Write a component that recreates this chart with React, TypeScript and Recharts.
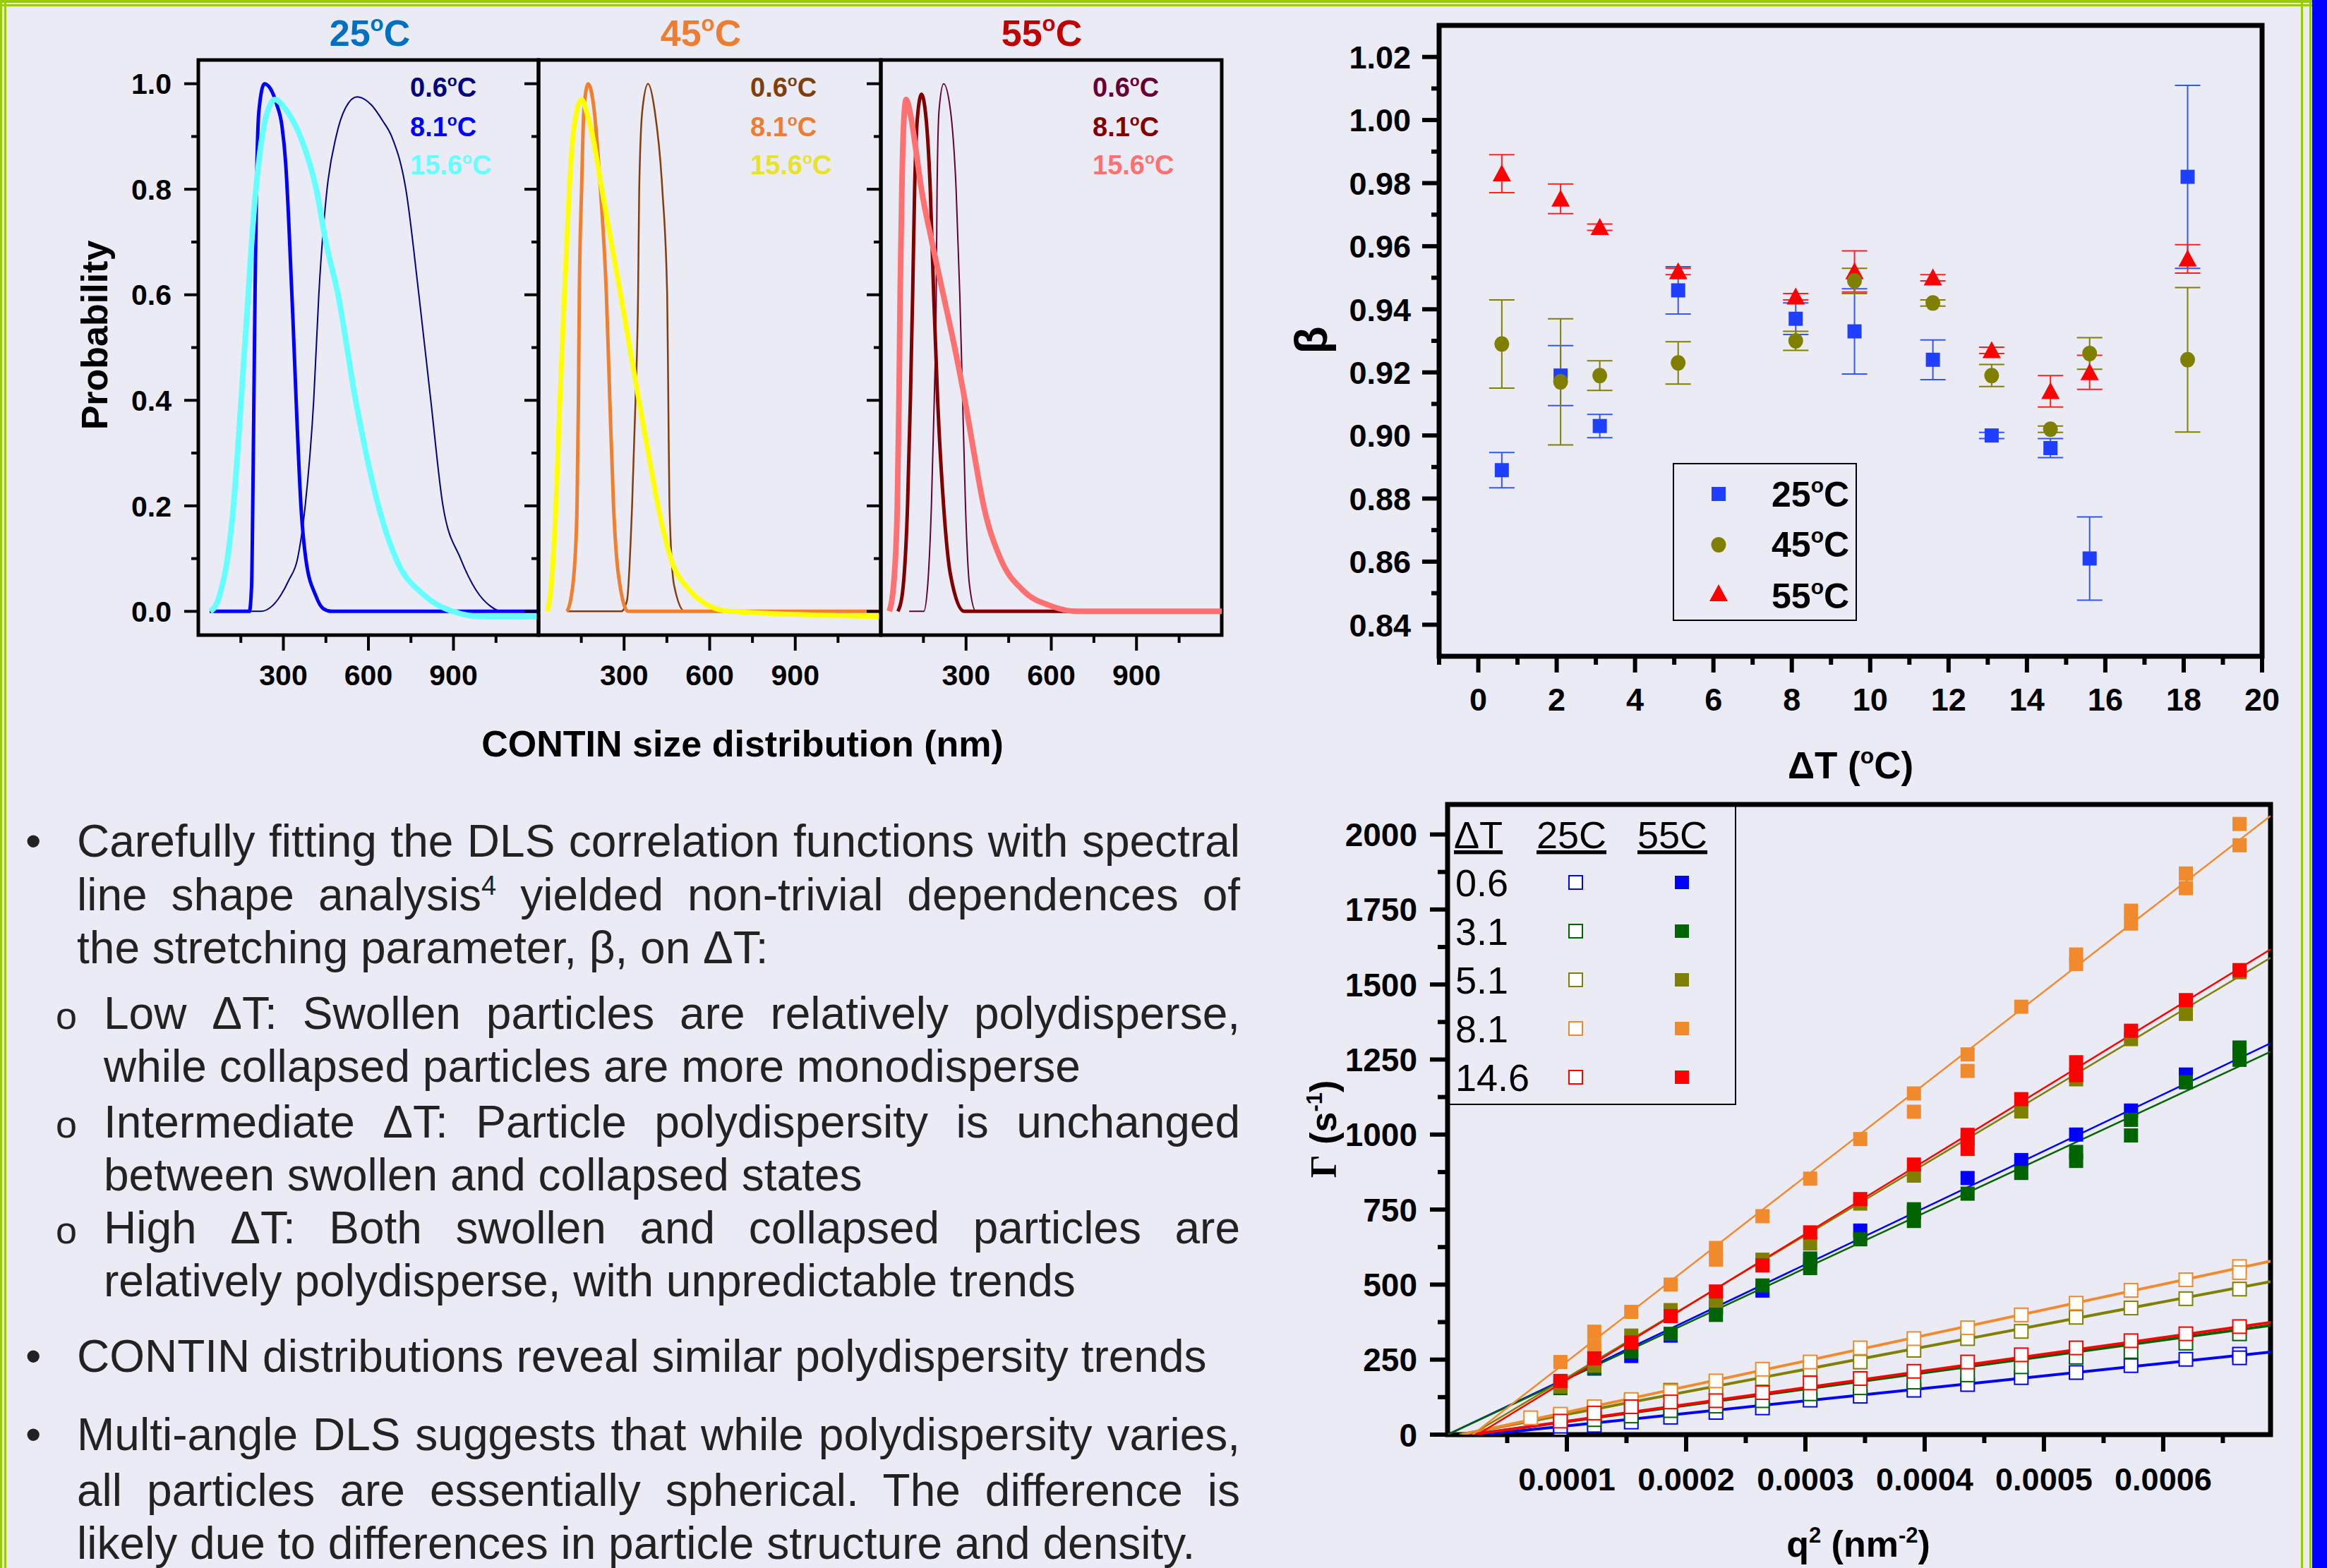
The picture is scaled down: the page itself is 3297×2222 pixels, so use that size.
import React from 'react'
import {
  LineChart, Line, XAxis, YAxis, ReferenceArea, ScatterChart, Scatter, ErrorBar, ComposedChart,
} from 'recharts'

const FONT = '"Liberation Sans", Arial, sans-serif'
const BG = '#EBEBF5'

// ---------- CONTIN size distributions: [size nm, probability] ----------
const C25_06 = [[60,0],[220,0],[260,0.01],[290,0.03],[320,0.06],[350,0.1],[377,0.2],[407,0.4],[425,0.6],[454,0.8],[486,0.9],[520,0.955],[560,0.975],[610,0.96],[650,0.93],[682,0.9],[732,0.8],[778,0.6],[820,0.4],[863,0.2],[925,0.1],[980,0.04],[1030,0.01],[1069,0],[1200,0]]
const C25_81 = [[40,0],[180,0],[188,0.05],[192,0.2],[196,0.4],[200,0.6],[205,0.8],[214,0.95],[233,1.0],[255,0.99],[277,0.96],[295,0.92],[308,0.85],[318,0.75],[326,0.65],[334,0.55],[345,0.4],[362,0.2],[379,0.1],[414,0.03],[441,0.005],[470,0],[1200,0]]
const C25_156 = [[42,0],[60,0.01],[80,0.04],[100,0.09],[124,0.2],[151,0.4],[176,0.6],[195,0.75],[215,0.86],[240,0.94],[270,0.97],[310,0.95],[360,0.9],[416,0.8],[450,0.7],[493,0.6],[555,0.4],[635,0.2],[697,0.1],[798,0.03],[897,0],[1000,-0.01],[1200,-0.01]]

const C45_06 = [[100,0],[290,0],[310,0.02],[328,0.2],[340,0.4],[349,0.6],[353,0.8],[364,0.95],[384,1.0],[407,0.95],[434,0.8],[451,0.6],[455,0.4],[459,0.2],[475,0.05],[513,0],[1200,0]]
const C45_81 = [[100,0],[112,0.02],[128,0.1],[135,0.2],[140,0.4],[143,0.6],[151,0.8],[159,0.95],[174,1.0],[195,0.95],[217,0.8],[238,0.6],[250,0.4],[263,0.2],[280,0.07],[314,0],[1200,0]]
const C45_156 = [[32,0],[45,0.05],[61,0.2],[75,0.4],[91,0.6],[108,0.8],[125,0.92],[151,0.97],[172,0.94],[190,0.9],[222,0.8],[255,0.7],[288,0.6],[320,0.5],[352,0.4],[385,0.3],[419,0.2],[464,0.1],[530,0.04],[600,0.01],[670,0],[1200,-0.01]]

const C55_06 = [[100,0],[151,0],[165,0.05],[178,0.2],[188,0.4],[195,0.6],[198,0.8],[205,0.95],[221,1.0],[245,0.95],[265,0.8],[278,0.6],[288,0.4],[298,0.2],[312,0.05],[335,0],[1200,0]]
const C55_81 = [[60,0],[75,0.03],[94,0.2],[104,0.4],[112,0.6],[119,0.8],[128,0.93],[143,0.98],[160,0.93],[174,0.8],[186,0.6],[200,0.4],[221,0.2],[245,0.07],[293,0],[1200,0]]
const C55_156 = [[30,0],[45,0.05],[58,0.2],[64,0.4],[68,0.6],[74,0.8],[80,0.92],[89,0.97],[105,0.94],[122,0.88],[143,0.8],[180,0.7],[220,0.6],[260,0.5],[296,0.4],[328,0.3],[362,0.2],[421,0.1],[500,0.04],[600,0.01],[692,0],[1200,0]]

const CONTIN_TEMPS = ['0.6', '8.1', '15.6']
const CONTIN_X_MAJOR = [300, 600, 900]
const CONTIN_X_MINOR = [150, 450, 750, 1050]
const CONTIN_Y_MAJOR = [0, 0.2, 0.4, 0.6, 0.8, 1.0]
const CONTIN_Y_MINOR = [0.1, 0.3, 0.5, 0.7, 0.9]

const PANELS = [
  { title: '25', color: '#0070C0', left: 281, w: 482, titleX: 524, curves: [C25_06, C25_81, C25_156], colors: ['#000080', '#0000FF', '#66FFFF'], text: ['#000080', '#0000FF', '#66FFFF'], widths: [2, 5, 8] },
  { title: '45', color: '#ED7D31', left: 763, w: 485, titleX: 993, curves: [C45_06, C45_81, C45_156], colors: ['#843C0C', '#F08030', '#FFFF00'], text: ['#7F3F0A', '#ED7D31', '#E6E22E'], widths: [2.5, 5, 7] },
  { title: '55', color: '#C00000', left: 1248, w: 483, titleX: 1476, curves: [C55_06, C55_81, C55_156], colors: ['#660033', '#800000', '#FF7070'], text: ['#660033', '#800000', '#FF7070'], widths: [2, 5, 8] },
]

// ---------- beta vs Delta T ----------
const DT = [0.6, 2.1, 3.1, 5.1, 8.1, 9.6, 11.6, 13.1, 14.6, 15.6, 18.1]
const B25 = [0.889, 0.919, 0.903, 0.946, 0.937, 0.933, 0.924, 0.900, 0.896, 0.861, 0.982]
const E25 = [0.0056, 0.0095, 0.0037, 0.0075, 0.005, 0.0135, 0.0063, 0.001, 0.003, 0.0132, 0.029]
const B45 = [0.929, 0.917, 0.919, 0.923, 0.930, 0.949, 0.942, 0.919, 0.902, 0.926, 0.924]
const E45 = [0.014, 0.020, 0.0047, 0.0067, 0.003, 0.004, 0.001, 0.0035, 0.001, 0.005, 0.0229]
const B55 = [0.983, 0.975, 0.966, 0.952, 0.944, 0.952, 0.950, 0.927, 0.914, 0.920, 0.956]
const E55 = [0.006, 0.0047, 0.001, 0.001, 0.001, 0.0065, 0.001, 0.001, 0.005, 0.0054, 0.0045]

const B_X_MAJOR = [0, 2, 4, 6, 8, 10, 12, 14, 16, 18, 20]
const B_X_MINOR = [-1, 1, 3, 5, 7, 9, 11, 13, 15, 17, 19]
const B_Y_MAJOR = [0.84, 0.86, 0.88, 0.90, 0.92, 0.94, 0.96, 0.98, 1.00, 1.02]
const B_Y_MINOR = [0.85, 0.87, 0.89, 0.91, 0.93, 0.95, 0.97, 0.99, 1.01]

// ---------- Gamma vs q^2 : [q index, Gamma] ----------
const Q = [0.0000697, 0.0000946, 0.000123, 0.000154, 0.000187, 0.000225, 0.000264, 0.000304, 0.000346, 0.000391, 0.000436, 0.000481, 0.000527, 0.000573, 0.000619, 0.000664]

const G25_06 = [[1,19],[1,28],[2,31],[3,42],[4,58],[5,74],[6,89],[7,115],[8,128],[9,148],[10,167],[11,190],[12,207],[13,230],[14,251],[15,268],[15,256]]
const G25_31 = [[2,50],[3,62],[4,80],[5,95],[6,113],[7,136],[8,156],[9,175],[10,199],[11,226],[12,258],[13,277],[14,305],[15,336]]
const G25_51 = [[1,62],[2,90],[3,112],[4,148],[5,156],[6,187],[7,218],[8,242],[9,281],[10,320],[11,344],[12,391],[13,422],[14,453],[15,485]]
const G25_81 = [[0,56],[1,68],[2,93],[3,117],[4,144],[5,179],[6,218],[7,242],[8,289],[9,320],[10,356],[11,399],[12,438],[13,481],[14,516],[15,560],[15,540]]
const G25_146 = [[1,45],[2,72],[3,93],[4,109],[5,113],[6,140],[7,172],[8,187],[9,211],[10,242],[11,266],[12,289],[13,313],[14,336],[15,360]]

const G55_06 = [[1,175],[2,220],[3,262],[4,330],[5,425],[6,480],[7,580],[8,680],[9,740],[10,855],[11,915],[12,1000],[13,1080],[14,1200],[15,1270]]
const G55_31 = [[1,155],[2,222],[3,277],[4,336],[5,399],[6,497],[7,587],[7,555],[8,651],[9,751],[9,712],[10,803],[11,872],[12,942],[12,912],[13,1049],[13,997],[14,1174],[15,1290],[15,1249]]
const G55_51 = [[1,160],[2,230],[3,330],[4,415],[5,446],[6,583],[7,637],[8,770],[9,863],[10,984],[11,1077],[12,1184],[13,1318],[14,1402],[15,1541]]
const G55_81 = [[1,242],[2,343],[2,296],[3,409],[4,500],[5,622],[5,583],[6,728],[7,853],[8,985],[9,1137],[9,1076],[10,1267],[10,1212],[11,1426],[12,1600],[12,1568],[13,1746],[13,1703],[14,1870],[14,1821],[15,2035],[15,1964]]
const G55_146 = [[1,179],[2,254],[3,307],[4,395],[5,477],[6,564],[7,674],[8,785],[9,900],[10,999],[10,952],[11,1118],[12,1241],[12,1198],[13,1346],[14,1448],[15,1548]]

// linear fits: [q, Gamma] end points
const F25_06 = [[0.00003,0],[0.00069,275]]
const F25_31 = [[0.00002,0],[0.00069,364]]
const F25_51 = [[0.00001,0],[0.00069,510]]
const F25_81 = [[0.000012,0],[0.00069,578]]
const F25_146 = [[0.00002,0],[0.00069,374]]
const F55_06 = [[0,0],[0.00069,1304]]
const F55_31 = [[0,0],[0.00069,1276]]
const F55_51 = [[0.00002,0],[0.00069,1589]]
const F55_81 = [[0.000021,0],[0.00069,2062]]
const F55_146 = [[0.000025,0],[0.00069,1617]]

const G_DT = ['0.6', '3.1', '5.1', '8.1', '14.6']
const G_COLORS = ['#0000FF', '#006400', '#808000', '#F08A2C', '#FF0000']
const G25 = [G25_06, G25_31, G25_51, G25_81, G25_146]
const G55 = [G55_06, G55_31, G55_51, G55_81, G55_146]
const F25 = [F25_06, F25_31, F25_51, F25_81, F25_146]
const F55 = [F55_06, F55_31, F55_51, F55_81, F55_146]

const G_X_MAJOR = [0.0001, 0.0002, 0.0003, 0.0004, 0.0005, 0.0006]
const G_X_MINOR = [0.00005, 0.00015, 0.00025, 0.00035, 0.00045, 0.00055, 0.00065]
const G_Y_MAJOR = [0, 250, 500, 750, 1000, 1250, 1500, 1750, 2000]
const G_Y_MINOR = [125, 375, 625, 875, 1125, 1375, 1625, 1875]

// ---------- helpers ----------
type TickOpts = { major: number[]; fmt?: (v: number) => string; majorLen: number; minorLen: number; sw: number; offset: number; size: number }

const xTick = (o: TickOpts) => (p: any) => {
  const v = p.payload.value
  const big = o.major.includes(v)
  return (
    <g>
      <line x1={p.x} x2={p.x} y1={p.y} y2={p.y + (big ? o.majorLen : o.minorLen)} stroke="#000" strokeWidth={o.sw} />
      {big && o.fmt && (
        <text x={p.x} y={p.y + o.offset} textAnchor="middle" fontFamily={FONT} fontWeight="bold" fontSize={o.size} fill="#000">{o.fmt(v)}</text>
      )}
    </g>
  )
}

const yTick = (o: TickOpts) => (p: any) => {
  const v = p.payload.value
  const big = o.major.includes(v)
  return (
    <g>
      <line x1={p.x - (big ? o.majorLen : o.minorLen)} x2={p.x} y1={p.y} y2={p.y} stroke="#000" strokeWidth={o.sw} />
      {big && o.fmt && (
        <text x={p.x - o.offset} y={p.y + o.size * 0.36} textAnchor="end" fontFamily={FONT} fontWeight="bold" fontSize={o.size} fill="#000">{o.fmt(v)}</text>
      )}
    </g>
  )
}

const toXY = (a: number[][]) => a.map(([x, y]) => ({ x, y }))
const toQG = (a: number[][]) => a.map(([i, g]) => ({ q: Q[i], g }))
const toFit = (a: number[][]) => a.map(([q, g]) => ({ q, g }))

const deg = (fs: number) => [
  <tspan key="o" fontSize={fs * 0.6} dy={-fs * 0.4}>o</tspan>,
  <tspan key="c" dy={fs * 0.4}>C</tspan>,
]

// ---------- CONTIN panel ----------
const CT = { top: 85, h: 815, yw: 150, mt: 10, mr: 10, xh: 100 }

function ContinPanel({ idx }: { idx: number }) {
  const p = PANELS[idx]
  return (
    <div style={{ position: 'absolute', left: p.left - CT.yw, top: CT.top - CT.mt }}>
      <LineChart width={CT.yw + p.w + CT.mr} height={CT.mt + CT.h + CT.xh} margin={{ top: CT.mt, right: CT.mr, left: 0, bottom: 0 }}>
        <XAxis type="number" dataKey="x" domain={[0, 1200]} allowDataOverflow ticks={[...CONTIN_X_MINOR, ...CONTIN_X_MAJOR]} interval={0}
          tickSize={0} tickLine={false} axisLine={false} height={CT.xh}
          tick={xTick({ major: CONTIN_X_MAJOR, fmt: v => String(v), majorLen: 20, minorLen: 9, sw: 4, offset: 69, size: 41 })} />
        <YAxis type="number" dataKey="y" domain={[-0.045, 1.045]} allowDataOverflow ticks={[...CONTIN_Y_MINOR, ...CONTIN_Y_MAJOR]} interval={0}
          tickSize={0} tickLine={false} axisLine={false} width={CT.yw}
          tick={yTick({ major: CONTIN_Y_MAJOR, fmt: idx === 0 ? v => v.toFixed(1) : undefined, majorLen: 18, minorLen: 8, sw: 4, offset: 36, size: 41 })} />
        <ReferenceArea x1={0} x2={1200} y1={-0.045} y2={1.045} fill="none" fillOpacity={0} stroke="#000" strokeWidth={5} />
        {p.curves.map((c, i) => (
          <Line key={i} data={toXY(c)} dataKey="y" type="monotone" stroke={p.colors[i]} strokeWidth={p.widths[i]} dot={false} isAnimationActive={false} />
        ))}
      </LineChart>
    </div>
  )
}

// ---------- beta chart ----------
const BT = { left: 2039, top: 36, w: 1166, h: 894, yw: 200, mt: 20, mr: 60, xh: 120 }
const beta = (b: number[], e: number[]) => DT.map((t, i) => ({ t, b: b[i], e: e[i] }))

const sq = (fill: string, s: number) => (p: any) => <rect x={p.cx - s / 2} y={p.cy - s / 2} width={s} height={s} fill={fill} />
const dotShape = (fill: string) => (p: any) => <ellipse cx={p.cx} cy={p.cy} rx={10.5} ry={11} fill={fill} />
const triShape = (fill: string) => (p: any) => (
  <polygon points={`${p.cx},${p.cy - 13} ${p.cx - 13},${p.cy + 11} ${p.cx + 13},${p.cy + 11}`} fill={fill} />
)

function BetaChart() {
  return (
    <div style={{ position: 'absolute', left: BT.left - BT.yw, top: BT.top - BT.mt }}>
      <ScatterChart width={BT.yw + BT.w + BT.mr} height={BT.mt + BT.h + BT.xh} margin={{ top: BT.mt, right: BT.mr, left: 0, bottom: 0 }}>
        <XAxis type="number" dataKey="t" domain={[-1, 20]} allowDataOverflow ticks={[...B_X_MINOR, ...B_X_MAJOR]} interval={0}
          tickSize={0} tickLine={false} axisLine={false} height={BT.xh}
          tick={xTick({ major: B_X_MAJOR, fmt: v => String(v), majorLen: 21, minorLen: 10, sw: 6, offset: 75, size: 45 })} />
        <YAxis type="number" dataKey="b" domain={[0.83, 1.03]} allowDataOverflow ticks={[...B_Y_MINOR, ...B_Y_MAJOR]} interval={0}
          tickSize={0} tickLine={false} axisLine={false} width={BT.yw}
          tick={yTick({ major: B_Y_MAJOR, fmt: v => v.toFixed(2), majorLen: 22, minorLen: 9, sw: 6, offset: 38, size: 45 })} />
        <ReferenceArea x1={-1} x2={20} y1={0.83} y2={1.03} fill="none" fillOpacity={0} stroke="#000" strokeWidth={7} />
        <Scatter data={beta(B25, E25)} shape={sq('#1F3FFF', 20)} isAnimationActive={false}>
          <ErrorBar dataKey="e" direction="y" width={18} stroke="#3355FF" strokeWidth={2} />
        </Scatter>
        <Scatter data={beta(B55, E55)} shape={triShape('#FF0000')} isAnimationActive={false}>
          <ErrorBar dataKey="e" direction="y" width={18} stroke="#FF2020" strokeWidth={2} />
        </Scatter>
        <Scatter data={beta(B45, E45)} shape={dotShape('#808000')} isAnimationActive={false}>
          <ErrorBar dataKey="e" direction="y" width={18} stroke="#808000" strokeWidth={2} />
        </Scatter>
      </ScatterChart>
    </div>
  )
}

// ---------- Gamma chart ----------
const GT = { left: 2051, top: 1140, w: 1166, h: 893, yw: 200, mt: 20, mr: 20, xh: 120 }

const openSq = (stroke: string) => (p: any) => (
  <rect x={p.cx - 9.5} y={p.cy - 9.5} width={19} height={19} fill="#FFFFFF" stroke={stroke} strokeWidth={2} />
)

function GammaChart() {
  return (
    <div style={{ position: 'absolute', left: GT.left - GT.yw, top: GT.top - GT.mt }}>
      <ComposedChart width={GT.yw + GT.w + GT.mr} height={GT.mt + GT.h + GT.xh} margin={{ top: GT.mt, right: GT.mr, left: 0, bottom: 0 }}>
        <XAxis type="number" dataKey="q" domain={[0, 0.00069]} allowDataOverflow ticks={[...G_X_MINOR, ...G_X_MAJOR]} interval={0}
          tickSize={0} tickLine={false} axisLine={false} height={GT.xh}
          tick={xTick({ major: G_X_MAJOR, fmt: v => v.toFixed(4), majorLen: 22, minorLen: 10, sw: 6, offset: 77, size: 45 })} />
        <YAxis type="number" dataKey="g" domain={[0, 2100]} allowDataOverflow ticks={[...G_Y_MINOR, ...G_Y_MAJOR]} interval={0}
          tickSize={0} tickLine={false} axisLine={false} width={GT.yw}
          tick={yTick({ major: G_Y_MAJOR, fmt: v => String(v), majorLen: 23, minorLen: 12, sw: 6, offset: 41, size: 46 })} />
        <ReferenceArea x1={0} x2={0.00069} y1={0} y2={2100} fill="none" fillOpacity={0} stroke="#000" strokeWidth={7} />
        {G25.map((s, i) => (
          <Scatter key={'o' + i} data={toQG(s)} dataKey="g" shape={openSq(G_COLORS[i])} isAnimationActive={false} />
        ))}
        {F25.map((f, i) => (
          <Line key={'fo' + i} data={toFit(f)} dataKey="g" type="linear" stroke={G_COLORS[i]} strokeWidth={4} dot={false} isAnimationActive={false} />
        ))}
        {G55.map((s, i) => (
          <Scatter key={'f' + i} data={toQG(s)} dataKey="g" shape={sq(G_COLORS[i], 20)} isAnimationActive={false} />
        ))}
        {F55.map((f, i) => (
          <Line key={'ff' + i} data={toFit(f)} dataKey="g" type="linear" stroke={G_COLORS[i]} strokeWidth={2.5} dot={false} isAnimationActive={false} />
        ))}
      </ComposedChart>
    </div>
  )
}

// ---------- text block ----------
const PARA: { lvl: number; base: number; just?: boolean; mark?: boolean; node: React.ReactNode }[] = [
  { lvl: 0, base: 1214, just: true, mark: true, node: 'Carefully fitting the DLS correlation functions with spectral' },
  { lvl: 0, base: 1290, just: true, node: <>line shape analysis<sup style={{ fontSize: 38, lineHeight: 0 }}>4</sup> yielded non-trivial dependences of</> },
  { lvl: 0, base: 1365, node: 'the stretching parameter, β, on ΔT:' },
  { lvl: 1, base: 1458, just: true, mark: true, node: 'Low ΔT: Swollen particles are relatively polydisperse,' },
  { lvl: 1, base: 1533, node: 'while collapsed particles are more monodisperse' },
  { lvl: 1, base: 1612, just: true, mark: true, node: 'Intermediate ΔT: Particle polydispersity is unchanged' },
  { lvl: 1, base: 1687, node: 'between swollen and collapsed states' },
  { lvl: 1, base: 1762, just: true, mark: true, node: 'High ΔT: Both swollen and collapsed particles are' },
  { lvl: 1, base: 1837, node: 'relatively polydisperse, with unpredictable trends' },
  { lvl: 0, base: 1944, mark: true, node: 'CONTIN distributions reveal similar polydispersity trends' },
  { lvl: 0, base: 2055, just: true, mark: true, node: 'Multi-angle DLS suggests that while polydispersity varies,' },
  { lvl: 0, base: 2134, just: true, node: 'all particles are essentially spherical. The difference is' },
  { lvl: 0, base: 2209, node: 'likely due to differences in particle structure and density.' },
]
const LH = 64
const topFor = (base: number, fs: number) => base - ((LH - 1.117 * fs) / 2 + 0.905 * fs)

function TextBlock() {
  return (
    <>
      {PARA.map((l, i) => {
        const left = l.lvl ? 147 : 109
        const mfs = l.lvl ? 54 : 64
        return (
          <React.Fragment key={i}>
            {l.mark && (
              <div style={{ position: 'absolute', left: l.lvl ? 79 : 36, top: topFor(l.base, mfs), fontSize: mfs, lineHeight: LH + 'px', fontFamily: FONT, color: '#222' }}>
                {l.lvl ? 'o' : '•'}
              </div>
            )}
            <div style={{
              position: 'absolute', left, width: 1757 - left, top: topFor(l.base, 64), fontSize: 64, lineHeight: LH + 'px',
              fontFamily: FONT, color: '#222', textAlign: l.just ? 'justify' : 'left', textAlignLast: l.just ? 'justify' : 'left',
            }}>
              {l.node}
            </div>
          </React.Fragment>
        )
      })}
    </>
  )
}

// ---------- overlay: frame stripes, titles, labels, legends ----------
function Overlay() {
  const legRows = [1270, 1339, 1408, 1477, 1546]
  return (
    <svg width={3297} height={2222} style={{ position: 'absolute', left: 0, top: 0, pointerEvents: 'none' }} fontFamily={FONT}>
      <rect x={0} y={0} width={3276} height={4} fill="#99CC00" />
      <rect x={0} y={6} width={3276} height={3} fill="#99CC00" />
      <rect x={0} y={0} width={3} height={2222} fill="#99CC00" />
      <rect x={6} y={0} width={3} height={2222} fill="#99CC00" />
      <rect x={3260} y={0} width={3} height={2222} fill="#99CC00" />
      <rect x={3272} y={0} width={3} height={2222} fill="#99CC00" />
      <rect x={3276} y={0} width={21} height={2222} fill="#0000FF" />

      {PANELS.map((p, i) => (
        <g key={i}>
          <text x={p.titleX} y={65} textAnchor="middle" fontSize={52} fontWeight="bold" fill={p.color}>{p.title}{deg(52)}</text>
          {CONTIN_TEMPS.map((t, j) => (
            <text key={j} x={p.left + 300} y={[137, 193, 247][j]} fontSize={38} fontWeight="bold" fill={p.text[j]}>{t}{deg(38)}</text>
          ))}
        </g>
      ))}
      <text transform="translate(152,475) rotate(-90)" textAnchor="middle" fontSize={52} fontWeight="bold">Probability</text>
      <text x={1052} y={1072} textAnchor="middle" fontSize={52} fontWeight="bold">CONTIN size distribution (nm)</text>

      <text transform="translate(1880,482) rotate(-90)" textAnchor="middle" fontSize={64} fontWeight="bold">β</text>
      <text x={2622} y={1103} textAnchor="middle" fontSize={53} fontWeight="bold">ΔT ({deg(53)})</text>
      <rect x={2371} y={657} width={259} height={222} fill="none" stroke="#000" strokeWidth={2} />
      <rect x={2425} y={690} width={20} height={20} fill="#1F3FFF" />
      <ellipse cx={2435} cy={772} rx={10.5} ry={11} fill="#808000" />
      <polygon points="2435,828 2422,852 2448,852" fill="#FF0000" />
      {['25', '45', '55'].map((t, j) => (
        <text key={t} x={2510} y={[718, 789, 862][j]} fontSize={50} fontWeight="bold">{t}{deg(50)}</text>
      ))}

      <text transform="translate(1893,1600) rotate(-90)" textAnchor="middle" fontSize={52} fontWeight="bold">
        <tspan fontFamily='"Liberation Serif", serif'>Γ</tspan>
        <tspan> (s</tspan>
        <tspan fontSize={31} dy={-20}>-1</tspan>
        <tspan dy={20}>)</tspan>
      </text>
      <text x={2633} y={2206} textAnchor="middle" fontSize={52} fontWeight="bold">
        q<tspan fontSize={31} dy={-20}>2</tspan><tspan dy={20}> (nm</tspan><tspan fontSize={31} dy={-20}>-2</tspan><tspan dy={20}>)</tspan>
      </text>

      <rect x={2051} y={1140} width={408} height={425} fill="none" stroke="#000" strokeWidth={2} />
      <text x={2060} y={1202} fontSize={54} style={{ textDecoration: 'underline' }}>ΔT</text>
      <text x={2177} y={1202} fontSize={54} style={{ textDecoration: 'underline' }}>25C</text>
      <text x={2320} y={1202} fontSize={54} style={{ textDecoration: 'underline' }}>55C</text>
      {G_DT.map((t, j) => (
        <g key={t}>
          <text x={2062} y={legRows[j]} fontSize={54}>{t}</text>
          <rect x={2223} y={legRows[j] - 29} width={19} height={19} fill="#FFFFFF" stroke={G_COLORS[j]} strokeWidth={2} />
          <rect x={2373} y={legRows[j] - 29} width={20} height={19} fill={G_COLORS[j]} />
        </g>
      ))}
    </svg>
  )
}

export default function App() {
  return (
    <div style={{ position: 'absolute', left: 0, top: 0, width: 3297, height: 2222, background: BG, overflow: 'hidden', fontFamily: FONT }}>
      <ContinPanel idx={0} />
      <ContinPanel idx={1} />
      <ContinPanel idx={2} />
      <BetaChart />
      <GammaChart />
      <TextBlock />
      <Overlay />
    </div>
  )
}
